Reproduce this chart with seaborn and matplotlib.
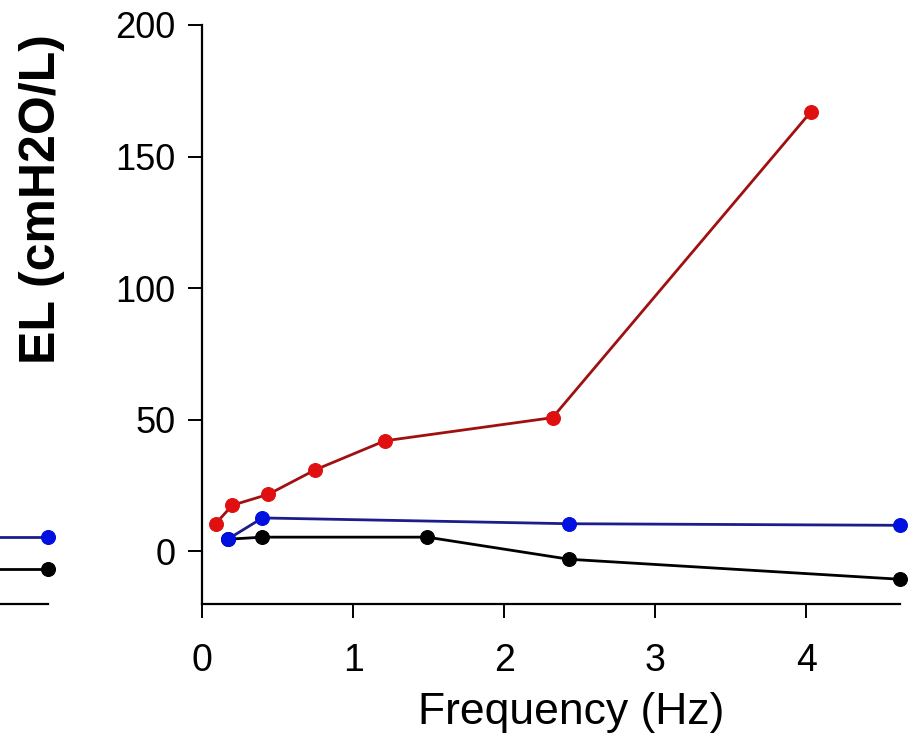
import matplotlib
matplotlib.use("Agg")
import matplotlib.pyplot as plt
import seaborn as sns
import pandas as pd

# frequency (Hz) / lung elastance (cmH2O/L)
red_freq = [0.09, 0.2, 0.44, 0.75, 1.21, 2.32, 4.03]
red_el = [10.5, 17.5, 21.7, 31.0, 42.0, 50.8, 167.0]

blue_freq = [0.17, 0.40, 2.43, 4.62]
blue_el = [4.6, 12.7, 10.5, 9.9]

black_freq = [0.17, 0.40, 1.49, 2.43, 4.62]
black_el = [4.6, 5.4, 5.4, -3.0, -10.6]

# cut-off neighbour panel at the left edge
left_x = [-1.0, 1.0]
left_blue = [5.3, 5.3]
left_black = [-6.8, -6.8]

x_ticks = [0, 1, 2, 3, 4]
y_ticks = [0, 50, 100, 150, 200]

sns.set_style("ticks")
plt.rcParams["font.family"] = ["Liberation Sans", "DejaVu Sans"]
plt.rcParams.update({"text.color": "black", "axes.labelcolor": "black",
                     "xtick.color": "black", "ytick.color": "black"})

W, H = 913, 751
fig = plt.figure(figsize=(W / 100, H / 100), dpi=100)
ax = fig.add_axes([202 / W, 1 - 604 / H, (900 - 202) / W, (604 - 25) / H])

series = [
    (black_freq, black_el, "black", "black"),
    (blue_freq, blue_el, "#1c1c8a", "#0010e0"),
    (red_freq, red_el, "#a01010", "#e01010"),
]
for fx, fy, lc, mc in series:
    df = pd.DataFrame({"freq": fx, "el": fy})
    sns.lineplot(data=df, x="freq", y="el", ax=ax, color=lc, lw=2.0,
                 marker="o", markersize=10, markerfacecolor=mc,
                 markeredgecolor=mc, sort=False, clip_on=False)

ax.set_xlim(0, 4.62)
ax.set_ylim(-20, 200)
ax.set_xticks(x_ticks)
ax.set_yticks(y_ticks)
ax.tick_params(axis="both", length=10, width=1.4)
ax.tick_params(axis="x", labelsize=27, pad=18)
ax.tick_params(axis="y", labelsize=26, pad=9)
ax.set_xlabel("Frequency (Hz)", fontsize=32)
ax.set_ylabel("EL (cmH2O/L)", fontsize=36, fontweight="bold")
ax.xaxis.set_label_coords(0.529, -0.152)
ax.yaxis.set_label_coords(-0.196, 0.70)
for s in ["left", "bottom"]:
    ax.spines[s].set_linewidth(1.6)
    ax.spines[s].set_color("black")
sns.despine(ax=ax)

# remnant of the neighbouring panel
ax0 = fig.add_axes([0, 1 - 604 / H, 48 / W, (604 - 25) / H])
for ly, lc, mc in [(left_blue, "#1c1c8a", "#0010e0"), (left_black, "black", "black")]:
    d0 = pd.DataFrame({"x": left_x, "y": ly})
    sns.lineplot(data=d0, x="x", y="y", ax=ax0, color=lc, lw=2.0)
    sns.scatterplot(data=d0.iloc[[-1]], x="x", y="y", ax=ax0, color=mc,
                    s=100, edgecolor=mc, clip_on=False, zorder=5)
ax0.set_xlim(0, 1)
ax0.set_ylim(-20, 200)
ax0.set_xticks([])
ax0.set_yticks([])
ax0.set_xlabel("")
ax0.set_ylabel("")
ax0.patch.set_alpha(0)
sns.despine(ax=ax0, left=True)
ax0.spines["bottom"].set_linewidth(1.6)
ax0.spines["bottom"].set_color("black")

fig.savefig("out.png", dpi=100)
